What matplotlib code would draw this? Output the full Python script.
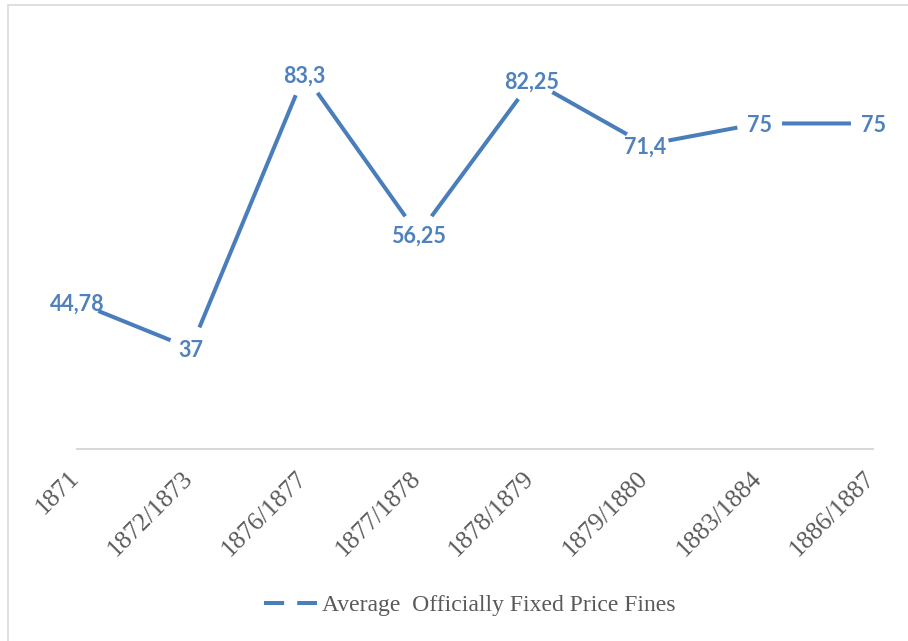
import matplotlib
matplotlib.use("Agg")
import matplotlib.pyplot as plt
import matplotlib.transforms as mtransforms
from matplotlib.lines import Line2D
from matplotlib.patches import Rectangle

categories = ["1871", "1872/1873", "1876/1877", "1877/1878", "1878/1879",
              "1879/1880", "1883/1884", "1886/1887"]
values = [44.78, 37, 83.3, 56.25, 82.25, 71.4, 75, 75]
value_labels = ["44,78", "37", "83,3", "56,25", "82,25", "71,4", "75", "75"]
series_name = "Average  Officially Fixed Price Fines"

W, H = 908, 641
fig = plt.figure(figsize=(W / 100, H / 100), dpi=100)
fig.patch.set_facecolor("white")

# outer chart border (light gray)
border = Rectangle((8 / W, -0.2), 2.0, 1.2 - 4.5 / H, transform=fig.transFigure,
                   fill=False, edgecolor="#D9D9D9", linewidth=1.2)
fig.add_artist(border)

left, right = 77 / W, 873 / W
bottom, top = 1 - 449 / H, 1 - 34.7 / H
ax = fig.add_axes([left, bottom, right - left, top - bottom])
ax.set_facecolor("none")

line_color = "#4A7EBB"
label_color = "#4F81BD"
x = list(range(len(categories)))
ax.plot(x, values, color=line_color, linewidth=2.9, solid_capstyle="butt", zorder=2)
# white gap around each data point (as in the Excel label clearance)
ax.plot(x, values, linestyle="none", marker="o", markersize=32.5,
        markerfacecolor="white", markeredgecolor="none", zorder=2.5)

for xi, v, lab in zip(x, values, value_labels):
    ax.text(xi, v, lab, ha="center", va="center_baseline", fontsize=15.5, fontweight="bold",
            color=label_color, family=["Lato", "DejaVu Sans"], zorder=3)

ax.set_xlim(0, len(categories) - 1)
ax.set_ylim(20, 90)
ax.set_yticks([])
for s in ["top", "right", "left"]:
    ax.spines[s].set_visible(False)
ax.spines["bottom"].set_color("#D9D9D9")
ax.spines["bottom"].set_linewidth(1.5)
ax.spines["bottom"].set_zorder(1)

ax.set_xticks(x)
ax.set_xticklabels(categories, rotation=45, ha="right", va="top",
                   rotation_mode="anchor", fontsize=18.5, color="#595959",
                   family="Liberation Serif")
ax.tick_params(axis="x", length=0, pad=13)
shift = mtransforms.ScaledTranslation(-0.09, 0, fig.dpi_scale_trans)
for lbl in ax.get_xticklabels():
    lbl.set_transform(lbl.get_transform() + shift)

handle = Line2D([], [], color=line_color, linewidth=2.9, dashes=(5, 3.25),
                solid_capstyle="butt")
fig.legend([handle], [series_name], loc="center", bbox_to_anchor=(470 / W, 1 - 605 / H),
           frameon=False, prop={"family": "Liberation Serif", "size": 17},
           labelcolor="#595959", handlelength=2.25, handletextpad=0.2)

fig.savefig("out.png", dpi=100, facecolor="white")
